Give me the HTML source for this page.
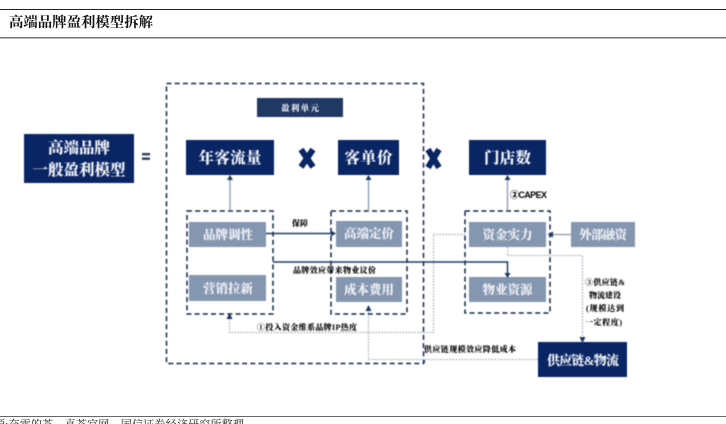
<!DOCTYPE html>
<html lang="zh">
<head>
<meta charset="utf-8">
<style>
html,body{margin:0;padding:0;background:#fff;width:726px;height:424px;overflow:hidden}
svg{display:block}
text{font-family:"Liberation Serif","Noto Serif CJK SC",serif}
.d{filter:blur(.55px)}
.w{fill:#eef1f6;font-weight:900;text-anchor:middle}
.k{fill:#000;font-weight:900}
</style>
</head>
<body>
<svg width="726" height="424" viewBox="0 0 726 424" xmlns="http://www.w3.org/2000/svg">
<rect x="0" y="9" width="726" height="1" fill="#222"/>
<rect x="0" y="37" width="726" height="1.5" fill="#777"/>
<text x="9" y="27" font-size="14.400" textLength="144" fill="#111" style="font-weight:700">高端品牌盈利模型拆解</text>

<g class="d">
<!-- filled boxes -->
<g fill="#0a2564">
<rect x="24" y="134" width="110" height="49"/>
<rect x="186" y="140" width="88" height="35"/>
<rect x="338" y="140" width="61" height="35"/>
<rect x="469" y="140" width="77" height="35"/>
<rect x="538" y="342" width="89" height="35"/>
</g>
<rect x="257" y="98" width="86" height="19" fill="#1f3864"/>
<g fill="#8496b0">
<rect x="189" y="222" width="77" height="25"/>
<rect x="189" y="275" width="77" height="26"/>
<rect x="336" y="221" width="66" height="26"/>
<rect x="336" y="277" width="66" height="25"/>
<rect x="469" y="222" width="77" height="25"/>
<rect x="469" y="277" width="77" height="25"/>
<rect x="571" y="222" width="64" height="25"/>
</g>

<!-- dashed containers -->
<g fill="none" stroke="#14264a" stroke-width="1.500" stroke-dasharray="5 3.200">
<rect x="166.500" y="83.500" width="257" height="280"/>
<rect x="187" y="211" width="86" height="103"/>
<rect x="331" y="211" width="76" height="103"/>
<rect x="465" y="211" width="85" height="102"/>
</g>

<!-- dotted connectors -->
<g fill="none" stroke="#a4aebd" stroke-width="1.200" stroke-dasharray="1.600 1.400">
<path d="M465 234.500H433.500V332.500H229.500V316"/>
<path d="M538 359.500H368.500V309"/>
<path d="M507.500 247V255.500H582.500V338"/>
</g>
<path d="M226.500 319L229.500 313L232.500 319Z" fill="#1f3864"/>
<path d="M365.500 311L368.500 305L371.500 311Z" fill="#1f3864"/>
<path d="M579.500 337L582.500 343L585.500 337Z" fill="#1f3864"/>
<path d="M423 362L425 359.500V363Z" fill="#1f3864"/>

<!-- solid gray arrows -->
<g stroke="#8b98ad" stroke-width="1.300" fill="none">
<path d="M230 211V179"/>
<path d="M368.500 211V179"/>
<path d="M507.500 211V179"/>
<path d="M571 234.500H552"/>
</g>
<g fill="#1f3864">
<path d="M227 180L230 175L233 180Z"/>
<path d="M365.500 180L368.500 175L371.500 180Z"/>
<path d="M504.500 180L507.500 175L510.500 180Z"/>
<path d="M553 231.500L547.500 234.500L553 237.500Z"/>
</g>

<!-- navy connectors -->
<g stroke="#1f3a70" stroke-width="1.500" fill="none">
<path d="M266 233.500H332"/>
<path d="M273 262H507.500V274"/>
</g>
<path d="M331 230.500L336 233.500L331 236.500Z" fill="#1f3864"/>
<path d="M504.500 273L507.500 278L510.500 273Z" fill="#1f3864"/>

<!-- operators -->
<g fill="#2e4065">
<rect x="142" y="153" width="8" height="2.400"/>
<rect x="142" y="157.500" width="8" height="2.400"/>
</g>
<g stroke="#0a2564" stroke-width="6" stroke-linecap="butt">
<path d="M301 149.500L313 167M313 149.500L301 167"/>
<path d="M428 149.500L439 167.500M439 149.500L428 167.500"/>
</g>

<!-- filled box labels -->
<text class="w" x="300" y="111" font-size="8.500" textLength="38">盈利单元</text>
<text class="w" x="79" y="153" font-size="15.500" textLength="62">高端品牌</text>
<text class="w" x="79" y="175" font-size="15.500" textLength="93">一般盈利模型</text>
<text class="w" x="230" y="163" font-size="15.500" textLength="63">年客流量</text>
<text class="w" x="368.500" y="163" font-size="15.500" textLength="48">客单价</text>
<text class="w" x="507.500" y="163" font-size="15.500" textLength="47">门店数</text>
<text class="w" x="583" y="365" font-size="13" textLength="72">供应链&amp;物流</text>
<text class="w" x="228" y="239" font-size="12.500" textLength="50">品牌调性</text>
<text class="w" x="228" y="293" font-size="12.500" textLength="50">营销拉新</text>
<text class="w" x="369" y="238" font-size="12.500" textLength="50">高端定价</text>
<text class="w" x="369" y="294" font-size="12.500" textLength="50">成本费用</text>
<text class="w" x="507.500" y="239" font-size="12.500" textLength="50">资金实力</text>
<text class="w" x="507.500" y="294" font-size="12.500" textLength="50">物业资源</text>
<text class="w" x="603" y="239" font-size="12.500" textLength="48">外部融资</text>

<!-- connector labels -->
<text class="k" x="292" y="226" font-size="8" textLength="16">保障</text>
<text class="k" x="293" y="273" font-size="8" textLength="83">品牌效应带来物业议价</text>
<text class="k" x="257" y="330" font-size="8" textLength="100">①投入资金维系品牌IP热度</text>
<text class="k" x="424" y="352" font-size="8" textLength="92">供应链规模效应降低成本</text>
<text class="k" x="510" y="198" font-size="9" textLength="37" style="font-family:'Liberation Sans','Noto Sans CJK SC',sans-serif">②CAPEX</text>
<text class="k" x="585" y="285" font-size="8" textLength="40">③供应链&amp;</text>
<text class="k" x="589" y="298" font-size="8" textLength="32">物流建设</text>
<text class="k" x="586" y="311" font-size="8" textLength="38">(规模达到</text>
<text class="k" x="585" y="325" font-size="8" textLength="37">一定程度)</text>
</g>

<rect x="0" y="416" width="726" height="1" fill="#666"/>
<text x="-6" y="428" font-size="11" fill="#222" textLength="250">源:奈雪的茶、喜茶官网、国信证券经济研究所整理</text>
</svg>
</body>
</html>
